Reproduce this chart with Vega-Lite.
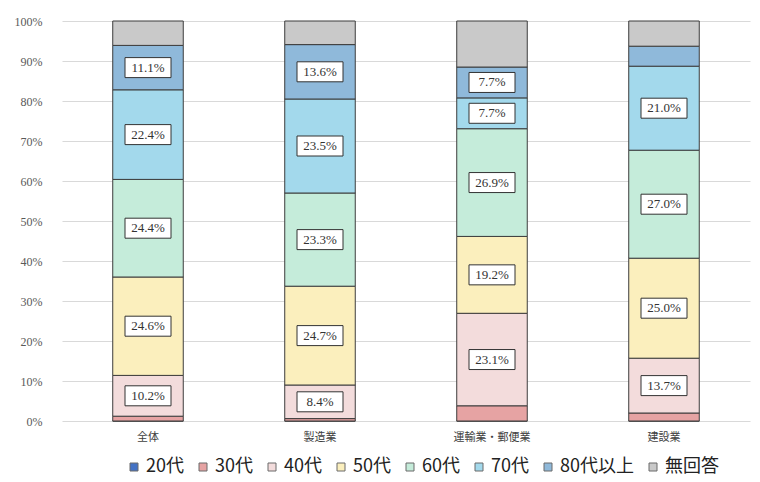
{
  "$schema": "https://vega.github.io/schema/vega-lite/v6.json",
  "width": 688,
  "height": 400,
  "autosize": "none",
  "padding": {"left": 62, "top": 21, "right": 10, "bottom": 61},
  "background": "white",
  "data": {
    "values": [
      {"industry": "全体", "age": "20代", "value": 0},
      {"industry": "全体", "age": "30代", "value": 1.2},
      {"industry": "全体", "age": "40代", "value": 10.2},
      {"industry": "全体", "age": "50代", "value": 24.6},
      {"industry": "全体", "age": "60代", "value": 24.4},
      {"industry": "全体", "age": "70代", "value": 22.4},
      {"industry": "全体", "age": "80代以上", "value": 11.1},
      {"industry": "全体", "age": "無回答", "value": 6.1},
      {"industry": "製造業", "age": "20代", "value": 0},
      {"industry": "製造業", "age": "30代", "value": 0.6},
      {"industry": "製造業", "age": "40代", "value": 8.4},
      {"industry": "製造業", "age": "50代", "value": 24.7},
      {"industry": "製造業", "age": "60代", "value": 23.3},
      {"industry": "製造業", "age": "70代", "value": 23.5},
      {"industry": "製造業", "age": "80代以上", "value": 13.6},
      {"industry": "製造業", "age": "無回答", "value": 5.9},
      {"industry": "運輸業・郵便業", "age": "20代", "value": 0},
      {"industry": "運輸業・郵便業", "age": "30代", "value": 3.8},
      {"industry": "運輸業・郵便業", "age": "40代", "value": 23.1},
      {"industry": "運輸業・郵便業", "age": "50代", "value": 19.2},
      {"industry": "運輸業・郵便業", "age": "60代", "value": 26.9},
      {"industry": "運輸業・郵便業", "age": "70代", "value": 7.7},
      {"industry": "運輸業・郵便業", "age": "80代以上", "value": 7.7},
      {"industry": "運輸業・郵便業", "age": "無回答", "value": 11.5},
      {"industry": "建設業", "age": "20代", "value": 0},
      {"industry": "建設業", "age": "30代", "value": 2.0},
      {"industry": "建設業", "age": "40代", "value": 13.7},
      {"industry": "建設業", "age": "50代", "value": 25.0},
      {"industry": "建設業", "age": "60代", "value": 27.0},
      {"industry": "建設業", "age": "70代", "value": 21.0},
      {"industry": "建設業", "age": "80代以上", "value": 5.0},
      {"industry": "建設業", "age": "無回答", "value": 6.3}
    ]
  },
  "encoding": {
    "x": {
      "field": "industry",
      "type": "nominal",
      "sort": ["全体", "製造業", "運輸業・郵便業", "建設業"],
      "scale": {"paddingInner": 0.59, "paddingOuter": 0.295},
      "axis": {
        "title": null,
        "labelAngle": 0,
        "ticks": false,
        "domain": false,
        "labelPadding": 10,
        "labelFont": "Noto Sans CJK JP",
        "labelFontSize": 11,
        "labelColor": "#404040"
      }
    }
  },
  "layer": [
    {
      "mark": {"type": "bar", "stroke": "#3c3c3c", "strokeWidth": 1},
      "encoding": {
        "y": {
          "field": "value",
          "type": "quantitative",
          "stack": "normalize",
          "scale": {"domain": [0, 1]},
          "axis": {
            "title": null,
            "values": [0, 0.1, 0.2, 0.3, 0.4, 0.5, 0.6, 0.7, 0.8, 0.9, 1],
            "format": ".0%",
            "ticks": false,
            "domain": false,
            "labelOverlap": false,
            "labelPadding": 20,
            "labelFont": "Liberation Serif",
            "labelFontSize": 12,
            "labelColor": "#595959",
            "gridColor": "#d9d9d9",
            "gridWidth": 1
          }
        },
        "order": {"field": "age", "type": "nominal", "sort": "ascending"},
        "color": {
          "field": "age",
          "type": "nominal",
          "scale": {
            "domain": ["20代", "30代", "40代", "50代", "60代", "70代", "80代以上", "無回答"],
            "range": ["#4472c4", "#e6a3a3", "#f3dcdc", "#fbefbd", "#c5ecda", "#a3d9ec", "#8fb9da", "#c9c9c9"]
          },
          "legend": {
            "title": null,
            "orient": "none",
            "direction": "horizontal",
            "legendX": 63,
            "legendY": 437,
            "symbolType": "square",
            "symbolSize": 64,
            "symbolStrokeWidth": 1,
            "symbolStrokeColor": "#6b6b6b",
            "labelFont": "Noto Sans CJK JP",
            "labelFontSize": 18,
            "labelColor": "#222222",
            "labelOffset": 3,
            "columnPadding": 10
          }
        }
      }
    },
    {
      "transform": [
        {"stack": "value", "groupby": ["industry"], "sort": [{"field": "age"}], "offset": "normalize", "as": ["s0", "s1"]},
        {"calculate": "(datum.s0 + datum.s1) / 2", "as": "mid"},
        {"filter": "datum.value >= 7 && datum.age != '無回答'"},
        {"calculate": "format(datum.value, '.1f') + '%'", "as": "label"}
      ],
      "encoding": {
        "y": {
          "field": "mid",
          "type": "quantitative",
          "scale": {"domain": [0, 1]},
          "axis": {
            "title": null,
            "values": [0, 0.1, 0.2, 0.3, 0.4, 0.5, 0.6, 0.7, 0.8, 0.9, 1],
            "format": ".0%",
            "ticks": false,
            "domain": false,
            "labelOverlap": false,
            "labelPadding": 20,
            "labelFont": "Liberation Serif",
            "labelFontSize": 12,
            "labelColor": "#595959",
            "gridColor": "#d9d9d9",
            "gridWidth": 1
          }
        }
      },
      "layer": [
        {
          "mark": {
            "type": "point",
            "shape": "M-2.3,-1H2.3V1H-2.3Z",
            "size": 400,
            "filled": true,
            "fill": "white",
            "stroke": "#333333",
            "strokeWidth": 1,
            "opacity": 1
          }
        },
        {
          "mark": {
            "type": "text",
            "font": "Liberation Serif",
            "fontSize": 13,
            "color": "#333333"
          },
          "encoding": {
            "text": {"field": "label"}
          }
        }
      ]
    }
  ],
  "config": {
    "view": {"stroke": null}
  }
}
